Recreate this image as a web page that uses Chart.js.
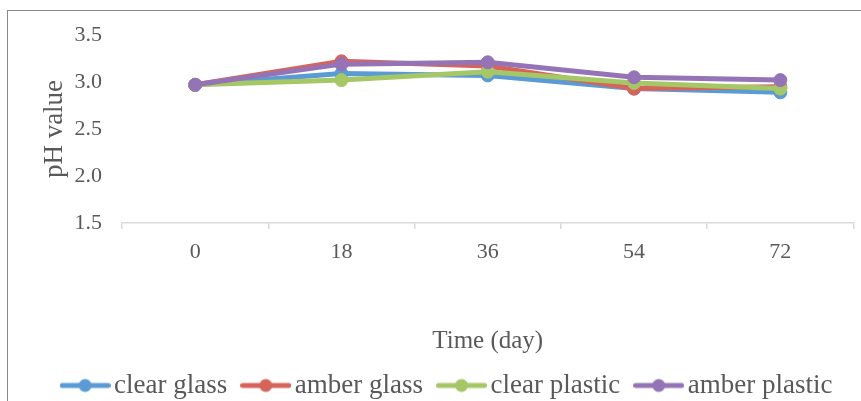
<!DOCTYPE html>
<html>
<head>
<meta charset="utf-8">
<script src="https://cdn.jsdelivr.net/npm/chart.js@4.4.0/dist/chart.umd.min.js"></script>
<style>
html,body{margin:0;padding:0;background:#fff;overflow:hidden;}
#wrap{position:relative;width:861px;height:401px;}
#frame{position:absolute;left:7px;top:10px;width:900px;height:500px;border-left:1.5px solid #8a8a8a;border-top:1.5px solid #8a8a8a;}
#c{position:absolute;left:0;top:0;}
</style>
</head>
<body>
<div id="wrap">
<div id="frame"></div>
<canvas id="c" width="861" height="401"></canvas>
</div>
<script>
const categories = ['0', '18', '36', '54', '72'];
const seriesNames = ['clear glass', 'amber glass', 'clear plastic', 'amber plastic'];
const clearGlass   = [2.97, 3.09, 3.07, 2.93, 2.89];
const amberGlass   = [2.97, 3.22, 3.17, 2.93, 2.95];
const clearPlastic = [2.97, 3.02, 3.11, 2.99, 2.93];
const amberPlastic = [2.97, 3.19, 3.21, 3.05, 3.02];
const colors = ['#5b9bd5', '#d6645a', '#a5c766', '#9474b6'];
const yMin = 1.5, yMax = 3.5, yStep = 0.5;

const FONT = '"Liberation Serif", "Times New Roman", serif';
const TXT = '#595959';

function makeMarker(color) {
  const c = document.createElement('canvas');
  c.width = 51; c.height = 16;
  const g = c.getContext('2d');
  g.strokeStyle = color; g.lineWidth = 5; g.lineCap = 'round';
  g.beginPath(); g.moveTo(2.5, 8); g.lineTo(48.5, 8); g.stroke();
  g.fillStyle = color;
  g.beginPath(); g.arc(25.5, 8, 6.5, 0, Math.PI * 2); g.fill();
  return c;
}
const markers = colors.map(makeMarker);

const values = [clearGlass, amberGlass, clearPlastic, amberPlastic];
const datasets = values.map((v, i) => ({
  label: seriesNames[i],
  data: v,
  borderColor: colors[i],
  backgroundColor: colors[i],
  pointBackgroundColor: colors[i],
  pointBorderColor: colors[i],
  borderWidth: 5,
  pointRadius: 6.5,
  pointBorderWidth: 1,
  tension: 0,
  order: 4 - i
}));

new Chart(document.getElementById('c'), {
  type: 'line',
  data: { labels: categories, datasets },
  options: {
    responsive: false,
    animation: false,
    events: [],
    layout: { padding: { left: 46, right: 5, top: 35, bottom: -8 } },
    plugins: {
      tooltip: { enabled: false },
      legend: {
        position: 'bottom',
        labels: {
          usePointStyle: true,
          pointStyleWidth: 31,
          padding: 23,
          color: TXT,
          font: { family: FONT, size: 27 },
          sort: (a, b) => a.datasetIndex - b.datasetIndex,
          generateLabels(chart) {
            const items = Chart.defaults.plugins.legend.labels.generateLabels(chart);
            items.forEach(it => { it.pointStyle = markers[it.datasetIndex]; });
            return items;
          }
        }
      }
    },
    scales: {
      x: {
        offset: true,
        grid: { display: true, drawOnChartArea: false, offset: true, tickLength: 6, color: '#d9d9d9', lineWidth: 1.5 },
        border: { display: true, color: '#d9d9d9', width: 1.5 },
        ticks: { color: TXT, font: { family: FONT, size: 22 }, padding: 10 },
        title: { display: true, text: 'Time (day)', color: TXT, font: { family: FONT, size: 25, lineHeight: 1 }, padding: { top: 0, bottom: -5 } },
        afterFit(s) { s.height = 126; }
      },
      y: {
        min: yMin, max: yMax,
        grid: { display: false, drawTicks: false },
        border: { display: false },
        ticks: { stepSize: yStep, color: TXT, font: { family: FONT, size: 22 }, padding: 20, callback: v => Number(v).toFixed(1) },
        title: { display: true, text: 'pH value', color: TXT, font: { family: FONT, size: 27 }, padding: { top: -7, bottom: 4 } },
        afterFit(s) { s.width = 76; }
      }
    }
  }
});
</script>
</body>
</html>
